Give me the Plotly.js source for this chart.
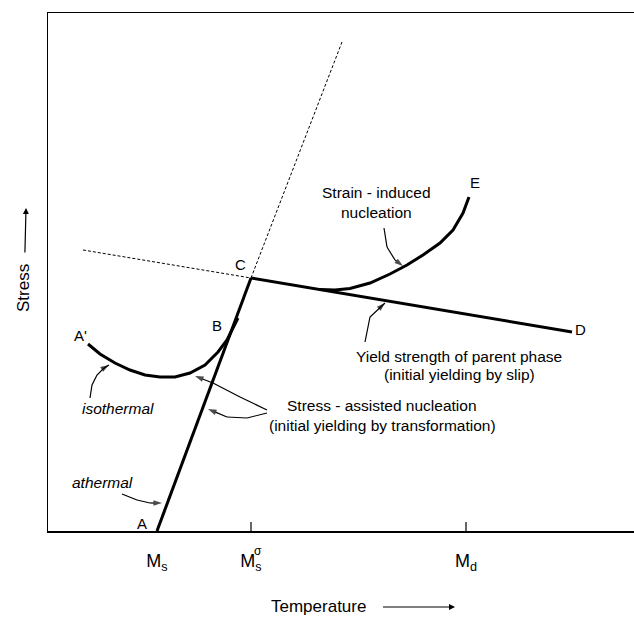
<!DOCTYPE html>
<html>
<head>
<meta charset="utf-8">
<script src="https://cdn.plot.ly/plotly-3.0.1.min.js"></script>
<style>html,body{margin:0;padding:0;background:#fff;}#chart{width:634px;height:617px;}</style>
</head>
<body>
<div id="chart"></div>
<script>
// ---- Data (schematic units: temperature along x, stress along y) ----
const tickTemps = [109, 203, 418];
const tickText = ['M<sub>s</sub>', 'M<sub>s</sub>', 'M<sub>d</sub>'];
const crossTicks = [203, 418];

// Stress-assisted line A -> C
const acTemp = [109, 203];
const acStress = [0, 253];
// dashed extension of A-C above C
const acExtTemp = [203, 294];
const acExtStress = [253, 489];
// dashed extension of yield line left of C
const cdExtTemp = [35, 203];
const cdExtStress = [281, 253];
// Yield strength of parent phase C -> D
const cdTemp = [203, 524];
const cdStress = [253, 199];
// Isothermal curve A' -> B
const isoTemp = [40, 52, 67, 82, 97, 112, 127, 142, 157, 170, 179, 186, 190];
const isoStress = [187, 177, 168, 161, 156, 154, 154, 158, 166, 179, 191, 204, 213];
// Strain-induced curve -> E
const strainTemp = [272, 287, 302, 322, 342, 359, 375, 392, 405, 415, 421];
const strainStress = [241.4, 241, 242.5, 248, 257, 266, 276, 288, 301, 318, 334];

// curved pointer arrows (last point = arrow tip)
const arrIsoT = [42, 44, 49, 56, 61];
const arrIsoS = [133, 146, 156, 163, 166];
const arrAthT = [74, 89, 102, 114];
const arrAthS = [37, 31, 28, 28];
const arrSa1T = [219, 192, 165, 147];
const arrSa1S = [121, 134, 148, 155];
const arrSa2T = [219, 199, 179, 160];
const arrSa2S = [118, 113, 114, 122];
const arrStrT = [336, 339, 347, 355];
const arrStrS = [303, 284, 271, 265];
const arrYldT = [317, 322, 337];
const arrYldS = [189, 214, 228];

// point labels
const ptNames = ['A', "A'", 'B', 'C', 'D', 'E'];
const ptTemp = [94, 32, 169, 192, 532, 427];
const ptStress = [8, 196, 206, 267, 202, 349];

// text labels
const noteText = ['Strain - induced', 'nucleation',
  'Yield strength of parent phase', '(initial yielding by slip)',
  'Stress - assisted nucleation', '(initial yielding by transformation)',
  '<i>isothermal</i>', '<i>athermal</i>'];
const noteTemp = [328, 328, 411, 411, 334, 334, 70, 54];
const noteStress = [339, 319, 175, 157, 126, 106, 123, 49];

const FONT = 'Liberation Sans, Arial, Helvetica, sans-serif';

function line(x, y, w, dash) {
  return {x: x, y: y, type: 'scatter', mode: 'lines', hoverinfo: 'skip',
          line: {color: '#000', width: w, dash: dash || 'solid'}, showlegend: false};
}
function pointer(x, y) {
  const sizes = x.map(function (_, i) { return i === x.length - 1 ? 9 : 0; });
  return {x: x, y: y, type: 'scatter', mode: 'lines+markers', hoverinfo: 'skip',
          line: {color: '#000', width: 1.2},
          marker: {symbol: 'arrow', size: sizes, color: '#000', angleref: 'previous',
                   line: {width: 0}},
          cliponaxis: false, showlegend: false};
}

const traces = [
  line(acExtTemp, acExtStress, 1, '3px,2px'),
  line(cdExtTemp, cdExtStress, 1, '3px,2px'),
  line(acTemp, acStress, 3),
  line(cdTemp, cdStress, 3),
  line(isoTemp, isoStress, 3),
  line(strainTemp, strainStress, 3),
  pointer(arrIsoT, arrIsoS),
  pointer(arrAthT, arrAthS),
  pointer(arrSa1T, arrSa1S),
  pointer(arrSa2T, arrSa2S),
  pointer(arrStrT, arrStrS),
  pointer(arrYldT, arrYldS)
];

const annotations = [];
// point labels
ptNames.forEach(function (t, i) {
  annotations.push({x: ptTemp[i], y: ptStress[i], text: t, showarrow: false,
    xanchor: 'center', yanchor: 'middle',
    font: {family: FONT, size: 15, color: '#000'}});
});
// descriptive labels
noteText.forEach(function (t, i) {
  annotations.push({x: noteTemp[i], y: noteStress[i], text: t, showarrow: false,
    xanchor: 'center', yanchor: 'middle',
    font: {family: FONT, size: 15.5, color: '#000'}});
});
// sigma superscript for Ms^sigma
annotations.push({x: tickTemps[1], y: 0, xshift: 7, yshift: -20, text: 'σ', showarrow: false,
  xanchor: 'center', yanchor: 'middle',
  font: {family: FONT, size: 12, color: '#000'}});
// axis titles with their arrows
annotations.push({xref: 'paper', yref: 'paper', x: 0.6945, y: -0.1467, ax: -136, ay: 0,
  text: 'Temperature', showarrow: true, arrowhead: 2, arrowsize: 1, arrowwidth: 1.2,
  arrowcolor: '#000', standoff: 0, startstandoff: 15,
  font: {family: FONT, size: 17, color: '#000'}});
annotations.push({xref: 'paper', yref: 'paper', x: -0.0375, y: 0.6236, ax: -2, ay: 80,
  text: 'Stress', textangle: -90, showarrow: true, arrowhead: 2, arrowsize: 1, arrowwidth: 1.2,
  arrowcolor: '#000', standoff: 0, startstandoff: 10,
  font: {family: FONT, size: 17, color: '#000'}});

const shapes = crossTicks.map(function (t) {
  return {type: 'line', xref: 'x', yref: 'y', x0: t, x1: t, y0: -11, y1: 9,
          line: {color: '#000', width: 1.2}};
});

const layout = {
  width: 634, height: 617,
  margin: {l: 48, r: 0, t: 13, b: 86},
  paper_bgcolor: '#fff', plot_bgcolor: '#fff',
  showlegend: false,
  xaxis: {range: [0, 586], showgrid: false, zeroline: false, showline: true, mirror: true,
          linecolor: '#000', linewidth: 1.5, tickvals: tickTemps, ticktext: tickText, ticks: '',
          ticklabelstandoff: 13, tickfont: {family: FONT, size: 18, color: '#000'}, fixedrange: true},
  yaxis: {range: [0, 518], showgrid: false, zeroline: false, showline: true, mirror: false,
          linecolor: '#000', linewidth: 1.5, showticklabels: false, ticks: '', tickvals: [],
          fixedrange: true},
  annotations: annotations,
  shapes: shapes
};

Plotly.newPlot('chart', traces, layout, {displayModeBar: false, staticPlot: true});
</script>
</body>
</html>
